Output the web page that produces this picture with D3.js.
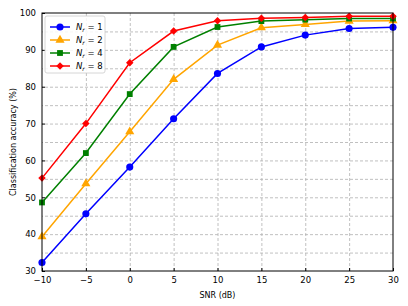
<!DOCTYPE html>
<html lang="en">
<head>
  <meta charset="utf-8">
  <title>Classification accuracy vs SNR</title>
  <script src="https://d3js.org/d3.v7.min.js"></script>
  <style>
    body { margin: 0; background: white; }
    text { font-family: "DejaVu Sans", sans-serif; fill: black; }
    .grid line { stroke: #b0b0b0; stroke-dasharray: 3,2; stroke-width: 0.8; }
    .grid path { display: none; }
    .axis path { display: none; }
    .axis line { stroke: black; }
    .axis text { font-size: 8.5px; }
  </style>
</head>
<body>
<div id="chart"></div>
<script>
  var snr = [-10, -5, 0, 5, 10, 15, 20, 25, 30];
  var labels = ["1", "2", "4", "8"];
  var colors = ["#0000ff", "#ffa500", "#008000", "#ff0000"];
  var shapes = ["circle", "triangle", "square", "diamond"];
  var acc1 = [32.3, 45.5, 58.2, 71.3, 83.6, 90.8, 94.0, 95.8, 96.1];
  var acc2 = [39.3, 53.7, 67.8, 82.0, 91.3, 96.0, 96.9, 97.8, 97.9];
  var acc4 = [48.6, 62.0, 78.0, 90.8, 96.2, 97.8, 98.2, 98.5, 98.5];
  var acc8 = [55.2, 70.0, 86.5, 95.1, 97.9, 98.6, 98.8, 99.1, 99.1];
  var xTicks = [-10, -5, 0, 5, 10, 15, 20, 25, 30];
  var yTicks = [30, 40, 50, 60, 70, 80, 90, 100];
  var yGrid = [35, 40, 45, 50, 55, 60, 65, 70, 75, 80, 85, 90, 95];

  var series = [acc1, acc2, acc4, acc8];

  var W = 408, H = 306;
  var margin = { top: 13, right: 15, bottom: 35, left: 42 };
  var width = W - margin.left - margin.right,
    height = H - margin.top - margin.bottom;

  var svg = d3.select('#chart').append('svg')
    .attr('width', W).attr('height', H);
  var g = svg.append('g')
    .attr('transform', 'translate(' + margin.left + ',' + margin.top + ')');

  var x = d3.scaleLinear().domain([-10, 30]).range([0, width]);
  var y = d3.scaleLinear().domain([30, 100]).range([height, 0]);

  // grid
  g.append('g').attr('class', 'grid')
    .call(d3.axisBottom(x).tickValues(xTicks.slice(1, -1)).tickSize(height).tickFormat(''));
  g.append('g').attr('class', 'grid')
    .attr('transform', 'translate(' + width + ',0)')
    .call(d3.axisLeft(y).tickValues(yGrid).tickSize(width).tickFormat(''));

  // axes, ticks pointing inward
  g.append('g').attr('class', 'axis')
    .attr('transform', 'translate(0,' + height + ')')
    .call(d3.axisBottom(x).tickValues(xTicks).tickSizeInner(-3).tickSizeOuter(0).tickPadding(6).tickFormat(d3.format('d')));
  g.append('g').attr('class', 'axis')
    .call(d3.axisLeft(y).tickValues(yTicks).tickSizeInner(-3).tickSizeOuter(0).tickPadding(6));

  // matplotlib-like markers: 'D' is a square turned 45 degrees
  var symbolType = {
    circle: d3.symbolCircle, triangle: d3.symbolTriangle,
    square: d3.symbolSquare, diamond: d3.symbolSquare
  };
  var symbolSize = { circle: 40, triangle: 36, square: 34, diamond: 28 };
  var symbolRot = { circle: 0, triangle: 0, square: 0, diamond: 45 };

  function marker(sel, shape, color, px, py) {
    sel.append('path')
      .attr('transform', 'translate(' + px + ',' + py + ') rotate(' + symbolRot[shape] + ')')
      .attr('d', d3.symbol().type(symbolType[shape]).size(symbolSize[shape]))
      .attr('fill', color);
  }

  var line = d3.line().x((d, i) => x(snr[i])).y(d => y(d));

  series.forEach(function (vals, k) {
    g.append('path')
      .attr('d', line(vals))
      .attr('fill', 'none')
      .attr('stroke', colors[k])
      .attr('stroke-width', 1.5);
    vals.forEach(function (v, i) {
      marker(g, shapes[k], colors[k], x(snr[i]), y(v));
    });
  });

  // frame
  g.append('rect')
    .attr('width', width).attr('height', height)
    .attr('fill', 'none').attr('stroke', 'black').attr('stroke-width', 1);

  // legend
  var lg = g.append('g').attr('transform', 'translate(3,3)');
  lg.append('rect')
    .attr('width', 60).attr('height', 57).attr('rx', 2)
    .attr('fill', 'white').attr('fill-opacity', 0.85)
    .attr('stroke', '#cccccc').attr('stroke-width', 0.8);
  labels.forEach(function (lab, k) {
    var ly = 11 + k * 13;
    lg.append('line')
      .attr('x1', 5).attr('x2', 25).attr('y1', ly).attr('y2', ly)
      .attr('stroke', colors[k]).attr('stroke-width', 1.5);
    marker(lg, shapes[k], colors[k], 15, ly);
    var t = lg.append('text')
      .attr('x', 31).attr('y', ly + 3)
      .style('font-size', '8.5px');
    t.append('tspan').style('font-style', 'italic').text('N');
    t.append('tspan').style('font-style', 'italic').style('font-size', '6px')
      .attr('dy', 2).text('r');
    t.append('tspan').attr('dy', -2).text(' = ' + lab);
  });

  // axis labels
  svg.append('text')
    .attr('x', margin.left + width / 2).attr('y', H - 8)
    .attr('text-anchor', 'middle')
    .style('font-size', '8px')
    .text('SNR (dB)');
  svg.append('text')
    .attr('transform', 'translate(16,' + (margin.top + height / 2) + ') rotate(-90)')
    .attr('text-anchor', 'middle')
    .style('font-size', '8px')
    .text('Classification accuracy (%)');
</script>
</body>
</html>
